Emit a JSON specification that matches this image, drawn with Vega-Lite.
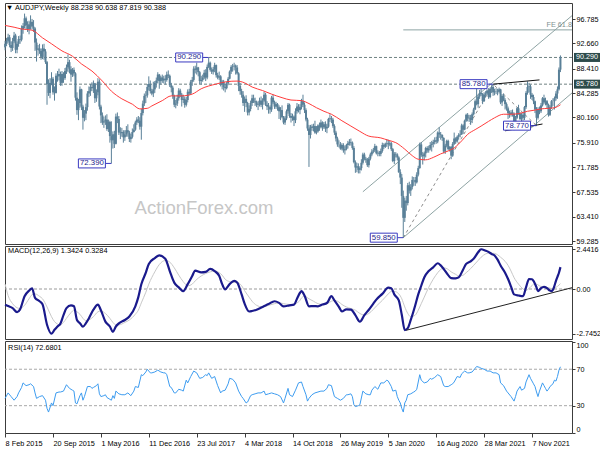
{
"$schema":"https://vega.github.io/schema/vega-lite/v6.json",
"background":"#ffffff",
"padding":{"left":0,"top":2,"right":0,"bottom":2},
"spacing":2,
"bounds":"flush",
"config":{"view":{"stroke":"#3c3c3c","strokeWidth":1},"font":"Liberation Sans"},
"datasets":{
"candles":[
{"d":"2015-02-08","o":92.0,"h":93.1,"l":91.5,"c":92.6},{"d":"2015-02-15","o":92.6,"h":93.6,"l":92.2,"c":93.1},{"d":"2015-02-22","o":93.1,"h":94.3,"l":92.8,"c":93.7},{"d":"2015-03-01","o":93.7,"h":94.1,"l":92.0,"c":92.4},{"d":"2015-03-08","o":92.4,"h":93.0,"l":91.2,"c":91.9},{"d":"2015-03-15","o":91.9,"h":93.6,"l":91.4,"c":93.0},{"d":"2015-03-22","o":93.0,"h":94.6,"l":92.7,"c":94.0},{"d":"2015-03-29","o":94.0,"h":94.3,"l":91.0,"c":91.6},{"d":"2015-04-05","o":91.6,"h":93.0,"l":91.0,"c":92.6},{"d":"2015-04-12","o":92.6,"h":93.9,"l":92.1,"c":93.4},{"d":"2015-04-19","o":93.4,"h":94.0,"l":92.6,"c":93.3},{"d":"2015-04-26","o":93.3,"h":95.7,"l":93.0,"c":95.1},{"d":"2015-05-03","o":95.1,"h":96.1,"l":94.3,"c":95.6},{"d":"2015-05-10","o":95.6,"h":97.7,"l":95.2,"c":96.9},{"d":"2015-05-17","o":96.9,"h":97.2,"l":95.0,"c":95.7},{"d":"2015-05-24","o":95.7,"h":96.4,"l":94.6,"c":95.1},{"d":"2015-05-31","o":95.1,"h":96.5,"l":94.2,"c":95.9},{"d":"2015-06-07","o":95.9,"h":97.4,"l":95.0,"c":96.3},{"d":"2015-06-14","o":96.3,"h":96.8,"l":95.0,"c":95.5},{"d":"2015-06-21","o":95.5,"h":96.6,"l":94.6,"c":95.2},{"d":"2015-06-28","o":95.2,"h":95.4,"l":91.4,"c":92.8},{"d":"2015-07-05","o":92.8,"h":93.5,"l":89.6,"c":91.6},{"d":"2015-07-12","o":91.6,"h":92.4,"l":90.6,"c":91.8},{"d":"2015-07-19","o":91.8,"h":92.6,"l":90.9,"c":91.4},{"d":"2015-07-26","o":91.4,"h":91.8,"l":89.9,"c":90.4},{"d":"2015-08-02","o":90.4,"h":92.5,"l":90.0,"c":91.8},{"d":"2015-08-09","o":91.8,"h":92.6,"l":89.9,"c":91.3},{"d":"2015-08-16","o":91.3,"h":91.7,"l":89.2,"c":89.5},{"d":"2015-08-23","o":89.5,"h":89.7,"l":82.3,"c":85.8},{"d":"2015-08-30","o":85.8,"h":86.6,"l":83.8,"c":84.3},{"d":"2015-09-06","o":84.3,"h":86.8,"l":83.4,"c":86.0},{"d":"2015-09-13","o":86.0,"h":87.8,"l":85.6,"c":86.7},{"d":"2015-09-20","o":86.7,"h":87.0,"l":84.0,"c":84.4},{"d":"2015-09-27","o":84.4,"h":85.4,"l":83.0,"c":84.3},{"d":"2015-10-04","o":84.3,"h":87.6,"l":84.2,"c":87.2},{"d":"2015-10-11","o":87.2,"h":88.0,"l":86.2,"c":87.1},{"d":"2015-10-18","o":87.1,"h":88.4,"l":86.4,"c":87.5},{"d":"2015-10-25","o":87.5,"h":87.9,"l":85.5,"c":86.0},{"d":"2015-11-01","o":86.0,"h":88.0,"l":85.5,"c":87.5},{"d":"2015-11-08","o":87.5,"h":87.8,"l":86.0,"c":86.8},{"d":"2015-11-15","o":86.8,"h":88.5,"l":86.5,"c":88.0},{"d":"2015-11-22","o":88.0,"h":89.1,"l":87.5,"c":88.6},{"d":"2015-11-29","o":88.6,"h":90.8,"l":87.8,"c":89.5},{"d":"2015-12-06","o":89.5,"h":89.9,"l":87.6,"c":88.3},{"d":"2015-12-13","o":88.3,"h":88.8,"l":86.2,"c":87.4},{"d":"2015-12-20","o":87.4,"h":88.5,"l":87.0,"c":88.2},{"d":"2015-12-27","o":88.2,"h":88.6,"l":87.1,"c":87.6},
{"d":"2016-01-03","o":87.6,"h":87.8,"l":83.0,"c":83.5},{"d":"2016-01-10","o":83.5,"h":84.4,"l":80.6,"c":81.4},{"d":"2016-01-17","o":81.4,"h":83.3,"l":79.7,"c":82.6},{"d":"2016-01-24","o":82.6,"h":85.4,"l":81.8,"c":84.9},{"d":"2016-01-31","o":84.9,"h":85.0,"l":81.4,"c":82.0},{"d":"2016-02-07","o":82.0,"h":82.3,"l":78.1,"c":80.1},{"d":"2016-02-14","o":80.1,"h":81.4,"l":79.5,"c":80.8},{"d":"2016-02-21","o":80.8,"h":82.5,"l":79.7,"c":81.9},{"d":"2016-02-28","o":81.9,"h":84.6,"l":81.3,"c":84.2},{"d":"2016-03-06","o":84.2,"h":85.4,"l":83.6,"c":84.6},{"d":"2016-03-13","o":84.6,"h":85.8,"l":83.8,"c":85.3},{"d":"2016-03-20","o":85.3,"h":86.1,"l":84.6,"c":85.1},{"d":"2016-03-27","o":85.1,"h":86.4,"l":84.3,"c":85.9},{"d":"2016-04-03","o":85.9,"h":86.0,"l":82.6,"c":83.4},{"d":"2016-04-10","o":83.4,"h":84.9,"l":82.8,"c":84.4},{"d":"2016-04-17","o":84.4,"h":86.8,"l":83.9,"c":86.2},{"d":"2016-04-24","o":86.2,"h":86.6,"l":81.5,"c":82.0},{"d":"2016-05-01","o":82.0,"h":82.3,"l":79.2,"c":80.5},{"d":"2016-05-08","o":80.5,"h":81.0,"l":78.9,"c":79.3},{"d":"2016-05-15","o":79.3,"h":80.3,"l":78.4,"c":79.5},{"d":"2016-05-22","o":79.5,"h":80.5,"l":78.9,"c":79.8},{"d":"2016-05-29","o":79.8,"h":80.7,"l":77.9,"c":78.2},{"d":"2016-06-05","o":78.2,"h":79.8,"l":77.7,"c":79.4},{"d":"2016-06-12","o":79.4,"h":79.6,"l":75.9,"c":77.0},{"d":"2016-06-19","o":77.0,"h":79.5,"l":72.39,"c":76.3},{"d":"2016-06-26","o":76.3,"h":77.8,"l":74.9,"c":77.3},{"d":"2016-07-03","o":77.3,"h":77.9,"l":75.0,"c":75.7},{"d":"2016-07-10","o":75.7,"h":80.8,"l":75.6,"c":80.3},{"d":"2016-07-17","o":80.3,"h":81.0,"l":79.2,"c":79.9},{"d":"2016-07-24","o":79.9,"h":80.4,"l":77.2,"c":77.6},{"d":"2016-07-31","o":77.6,"h":78.5,"l":76.5,"c":77.5},{"d":"2016-08-07","o":77.5,"h":78.4,"l":76.9,"c":77.7},{"d":"2016-08-14","o":77.7,"h":78.0,"l":75.9,"c":76.8},{"d":"2016-08-21","o":76.8,"h":78.0,"l":76.2,"c":77.3},{"d":"2016-08-28","o":77.3,"h":78.7,"l":76.9,"c":78.0},{"d":"2016-09-04","o":78.0,"h":79.0,"l":76.9,"c":77.6},{"d":"2016-09-11","o":77.6,"h":77.9,"l":76.0,"c":76.5},{"d":"2016-09-18","o":76.5,"h":77.4,"l":75.9,"c":76.9},{"d":"2016-09-25","o":76.9,"h":78.3,"l":76.6,"c":77.7},{"d":"2016-10-02","o":77.7,"h":79.0,"l":77.6,"c":78.1},{"d":"2016-10-09","o":78.1,"h":79.6,"l":77.9,"c":79.3},{"d":"2016-10-16","o":79.3,"h":80.2,"l":78.9,"c":79.8},{"d":"2016-10-23","o":79.8,"h":80.4,"l":79.2,"c":79.6},{"d":"2016-10-30","o":79.6,"h":80.2,"l":78.1,"c":78.6},{"d":"2016-11-06","o":78.6,"h":81.6,"l":76.4,"c":80.9},{"d":"2016-11-13","o":80.9,"h":83.0,"l":80.5,"c":82.5},{"d":"2016-11-20","o":82.5,"h":84.2,"l":82.1,"c":83.8},{"d":"2016-11-27","o":83.8,"h":84.6,"l":82.6,"c":83.9},{"d":"2016-12-04","o":83.9,"h":85.8,"l":83.5,"c":85.3},{"d":"2016-12-11","o":85.3,"h":87.1,"l":84.7,"c":85.8},{"d":"2016-12-18","o":85.8,"h":86.4,"l":84.2,"c":84.6},{"d":"2016-12-25","o":84.6,"h":85.0,"l":83.9,"c":84.2},
{"d":"2017-01-01","o":84.2,"h":86.2,"l":83.6,"c":84.9},{"d":"2017-01-08","o":84.9,"h":86.3,"l":84.3,"c":86.0},{"d":"2017-01-15","o":86.0,"h":86.9,"l":85.2,"c":86.4},{"d":"2017-01-22","o":86.4,"h":87.8,"l":85.9,"c":87.4},{"d":"2017-01-29","o":87.4,"h":87.5,"l":85.0,"c":86.3},{"d":"2017-02-05","o":86.3,"h":87.2,"l":85.7,"c":86.9},{"d":"2017-02-12","o":86.9,"h":87.4,"l":86.0,"c":86.4},{"d":"2017-02-19","o":86.4,"h":87.2,"l":85.9,"c":86.7},{"d":"2017-02-26","o":86.7,"h":87.3,"l":85.7,"c":86.5},{"d":"2017-03-05","o":86.5,"h":87.9,"l":86.2,"c":87.4},{"d":"2017-03-12","o":87.4,"h":88.1,"l":86.8,"c":87.2},{"d":"2017-03-19","o":87.2,"h":87.4,"l":85.3,"c":85.6},{"d":"2017-03-26","o":85.6,"h":86.0,"l":84.4,"c":85.2},{"d":"2017-04-02","o":85.2,"h":85.5,"l":83.3,"c":83.8},{"d":"2017-04-09","o":83.8,"h":84.0,"l":81.9,"c":82.3},{"d":"2017-04-16","o":82.3,"h":83.1,"l":81.7,"c":82.5},{"d":"2017-04-23","o":82.5,"h":84.0,"l":82.1,"c":83.4},{"d":"2017-04-30","o":83.4,"h":85.1,"l":83.0,"c":84.7},{"d":"2017-05-07","o":84.7,"h":85.0,"l":83.6,"c":84.0},{"d":"2017-05-14","o":84.0,"h":84.3,"l":82.0,"c":83.1},{"d":"2017-05-21","o":83.1,"h":84.0,"l":82.6,"c":83.3},{"d":"2017-05-28","o":83.3,"h":83.7,"l":81.8,"c":82.3},{"d":"2017-06-04","o":82.3,"h":83.6,"l":82.0,"c":83.1},{"d":"2017-06-11","o":83.1,"h":84.9,"l":82.7,"c":84.5},{"d":"2017-06-18","o":84.5,"h":85.0,"l":83.9,"c":84.2},{"d":"2017-06-25","o":84.2,"h":86.5,"l":84.0,"c":86.2},{"d":"2017-07-02","o":86.2,"h":87.0,"l":85.5,"c":86.5},{"d":"2017-07-09","o":86.5,"h":88.8,"l":86.2,"c":88.4},{"d":"2017-07-16","o":88.4,"h":88.9,"l":87.6,"c":88.2},{"d":"2017-07-23","o":88.2,"h":89.4,"l":87.4,"c":88.6},{"d":"2017-07-30","o":88.6,"h":88.7,"l":87.1,"c":87.8},{"d":"2017-08-06","o":87.8,"h":88.0,"l":85.8,"c":86.3},{"d":"2017-08-13","o":86.3,"h":87.2,"l":85.7,"c":86.5},{"d":"2017-08-20","o":86.5,"h":87.4,"l":86.2,"c":86.9},{"d":"2017-08-27","o":86.9,"h":88.2,"l":86.6,"c":87.7},{"d":"2017-09-03","o":87.7,"h":88.3,"l":86.3,"c":86.9},{"d":"2017-09-10","o":86.9,"h":89.1,"l":86.6,"c":88.7},{"d":"2017-09-17","o":88.7,"h":90.29,"l":88.5,"c":89.4},{"d":"2017-09-24","o":89.4,"h":89.6,"l":87.9,"c":88.2},{"d":"2017-10-01","o":88.2,"h":88.6,"l":87.5,"c":87.9},{"d":"2017-10-08","o":87.9,"h":88.7,"l":87.4,"c":88.3},{"d":"2017-10-15","o":88.3,"h":89.4,"l":87.8,"c":89.0},{"d":"2017-10-22","o":89.0,"h":89.1,"l":86.9,"c":87.3},{"d":"2017-10-29","o":87.3,"h":87.7,"l":86.6,"c":86.9},{"d":"2017-11-05","o":86.9,"h":87.9,"l":86.5,"c":87.1},{"d":"2017-11-12","o":87.1,"h":87.3,"l":85.4,"c":85.7},{"d":"2017-11-19","o":85.7,"h":86.5,"l":84.9,"c":86.2},{"d":"2017-11-26","o":86.2,"h":86.5,"l":84.7,"c":85.3},{"d":"2017-12-03","o":85.3,"h":85.8,"l":84.4,"c":85.1},{"d":"2017-12-10","o":85.1,"h":86.2,"l":84.9,"c":85.9},{"d":"2017-12-17","o":85.9,"h":87.0,"l":85.6,"c":86.7},{"d":"2017-12-24","o":86.7,"h":88.1,"l":86.6,"c":87.9},{"d":"2017-12-31","o":87.9,"h":89.0,"l":87.5,"c":88.7},
{"d":"2018-01-07","o":88.7,"h":89.2,"l":87.9,"c":88.8},{"d":"2018-01-14","o":88.8,"h":89.4,"l":88.1,"c":88.9},{"d":"2018-01-21","o":88.9,"h":89.1,"l":87.4,"c":88.6},{"d":"2018-01-28","o":88.6,"h":89.0,"l":87.4,"c":87.6},{"d":"2018-02-04","o":87.6,"h":87.8,"l":84.6,"c":85.5},{"d":"2018-02-11","o":85.5,"h":86.0,"l":84.0,"c":84.6},{"d":"2018-02-18","o":84.6,"h":85.0,"l":83.5,"c":84.0},{"d":"2018-02-25","o":84.0,"h":84.6,"l":82.1,"c":82.6},{"d":"2018-03-04","o":82.6,"h":83.7,"l":81.1,"c":83.3},{"d":"2018-03-11","o":83.3,"h":83.9,"l":81.9,"c":82.6},{"d":"2018-03-18","o":82.6,"h":82.8,"l":80.5,"c":81.0},{"d":"2018-03-25","o":81.0,"h":82.2,"l":80.5,"c":81.6},{"d":"2018-04-01","o":81.6,"h":83.0,"l":81.2,"c":82.6},{"d":"2018-04-08","o":82.6,"h":84.0,"l":82.1,"c":83.4},{"d":"2018-04-15","o":83.4,"h":84.0,"l":82.6,"c":82.9},{"d":"2018-04-22","o":82.9,"h":83.5,"l":82.1,"c":82.7},{"d":"2018-04-29","o":82.7,"h":83.0,"l":81.9,"c":82.3},{"d":"2018-05-06","o":82.3,"h":82.9,"l":81.4,"c":82.4},{"d":"2018-05-13","o":82.4,"h":83.5,"l":82.0,"c":83.0},{"d":"2018-05-20","o":83.0,"h":83.7,"l":81.9,"c":82.3},{"d":"2018-05-27","o":82.3,"h":83.4,"l":81.5,"c":83.0},{"d":"2018-06-03","o":83.0,"h":84.5,"l":82.8,"c":84.0},{"d":"2018-06-10","o":84.0,"h":84.3,"l":82.1,"c":82.3},{"d":"2018-06-17","o":82.3,"h":82.9,"l":81.4,"c":82.0},{"d":"2018-06-24","o":82.0,"h":82.6,"l":80.8,"c":81.9},{"d":"2018-07-01","o":81.9,"h":82.2,"l":80.8,"c":81.5},{"d":"2018-07-08","o":81.5,"h":83.8,"l":81.1,"c":83.5},{"d":"2018-07-15","o":83.5,"h":84.0,"l":82.4,"c":82.7},{"d":"2018-07-22","o":82.7,"h":83.0,"l":81.6,"c":82.0},{"d":"2018-07-29","o":82.0,"h":82.8,"l":81.6,"c":82.4},{"d":"2018-08-05","o":82.4,"h":82.6,"l":81.3,"c":81.9},{"d":"2018-08-12","o":81.9,"h":82.2,"l":79.9,"c":81.2},{"d":"2018-08-19","o":81.2,"h":81.9,"l":79.7,"c":81.4},{"d":"2018-08-26","o":81.4,"h":82.2,"l":80.0,"c":80.2},{"d":"2018-09-02","o":80.2,"h":80.4,"l":79.0,"c":79.3},{"d":"2018-09-09","o":79.3,"h":80.4,"l":78.9,"c":80.0},{"d":"2018-09-16","o":80.0,"h":81.5,"l":79.7,"c":81.2},{"d":"2018-09-23","o":81.2,"h":82.6,"l":80.8,"c":82.3},{"d":"2018-09-30","o":82.3,"h":82.5,"l":80.1,"c":80.4},{"d":"2018-10-07","o":80.4,"h":80.9,"l":79.3,"c":80.1},{"d":"2018-10-14","o":80.1,"h":80.8,"l":79.6,"c":80.3},{"d":"2018-10-21","o":80.3,"h":80.5,"l":78.7,"c":79.7},{"d":"2018-10-28","o":79.7,"h":81.7,"l":79.2,"c":81.2},{"d":"2018-11-04","o":81.2,"h":82.6,"l":80.8,"c":82.0},{"d":"2018-11-11","o":82.0,"h":82.4,"l":81.0,"c":81.4},{"d":"2018-11-18","o":81.4,"h":82.4,"l":80.7,"c":81.9},{"d":"2018-11-25","o":81.9,"h":83.3,"l":81.5,"c":82.9},{"d":"2018-12-02","o":82.9,"h":84.0,"l":81.9,"c":82.3},{"d":"2018-12-09","o":82.3,"h":82.7,"l":80.9,"c":81.4},{"d":"2018-12-16","o":81.4,"h":81.7,"l":79.5,"c":79.8},{"d":"2018-12-23","o":79.8,"h":80.1,"l":77.9,"c":78.3},{"d":"2018-12-30","o":78.3,"h":78.9,"l":71.8,"c":77.2},
{"d":"2019-01-06","o":77.2,"h":78.9,"l":76.6,"c":78.6},{"d":"2019-01-13","o":78.6,"h":79.0,"l":77.9,"c":78.4},{"d":"2019-01-20","o":78.4,"h":79.1,"l":77.8,"c":78.7},{"d":"2019-01-27","o":78.7,"h":79.6,"l":77.4,"c":77.6},{"d":"2019-02-03","o":77.6,"h":78.7,"l":77.3,"c":77.8},{"d":"2019-02-10","o":77.8,"h":79.0,"l":77.6,"c":78.8},{"d":"2019-02-17","o":78.8,"h":79.3,"l":77.9,"c":78.5},{"d":"2019-02-24","o":78.5,"h":79.8,"l":78.3,"c":79.3},{"d":"2019-03-03","o":79.3,"h":79.5,"l":77.9,"c":78.5},{"d":"2019-03-10","o":78.5,"h":79.4,"l":78.2,"c":79.0},{"d":"2019-03-17","o":79.0,"h":79.5,"l":77.7,"c":78.3},{"d":"2019-03-24","o":78.3,"h":79.1,"l":77.5,"c":78.6},{"d":"2019-03-31","o":78.6,"h":80.1,"l":78.4,"c":79.9},{"d":"2019-04-07","o":79.9,"h":80.7,"l":79.4,"c":80.0},{"d":"2019-04-14","o":80.0,"h":80.4,"l":79.2,"c":79.8},{"d":"2019-04-21","o":79.8,"h":80.1,"l":78.4,"c":78.7},{"d":"2019-04-28","o":78.7,"h":79.0,"l":77.2,"c":77.6},{"d":"2019-05-05","o":77.6,"h":77.9,"l":76.1,"c":76.6},{"d":"2019-05-12","o":76.6,"h":76.9,"l":75.2,"c":75.6},{"d":"2019-05-19","o":75.6,"h":76.3,"l":75.1,"c":75.6},{"d":"2019-05-26","o":75.6,"h":76.0,"l":74.7,"c":74.9},{"d":"2019-06-02","o":74.9,"h":75.8,"l":74.6,"c":75.5},{"d":"2019-06-09","o":75.5,"h":75.8,"l":74.2,"c":74.6},{"d":"2019-06-16","o":74.6,"h":75.3,"l":73.9,"c":74.8},{"d":"2019-06-23","o":74.8,"h":75.7,"l":74.6,"c":75.5},{"d":"2019-06-30","o":75.5,"h":76.2,"l":74.9,"c":75.8},{"d":"2019-07-07","o":75.8,"h":76.5,"l":75.4,"c":76.0},{"d":"2019-07-14","o":76.0,"h":76.6,"l":75.4,"c":75.9},{"d":"2019-07-21","o":75.9,"h":76.1,"l":74.7,"c":75.0},{"d":"2019-07-28","o":75.0,"h":75.3,"l":72.4,"c":72.6},{"d":"2019-08-04","o":72.6,"h":72.9,"l":70.8,"c":71.7},{"d":"2019-08-11","o":71.7,"h":72.5,"l":70.9,"c":71.9},{"d":"2019-08-18","o":71.9,"h":72.4,"l":70.7,"c":71.3},{"d":"2019-08-25","o":71.3,"h":71.9,"l":70.7,"c":71.6},{"d":"2019-09-01","o":71.6,"h":73.1,"l":71.2,"c":72.5},{"d":"2019-09-08","o":72.5,"h":74.2,"l":72.2,"c":73.9},{"d":"2019-09-15","o":73.9,"h":74.2,"l":72.9,"c":73.2},{"d":"2019-09-22","o":73.2,"h":73.5,"l":72.5,"c":73.0},{"d":"2019-09-29","o":73.0,"h":73.3,"l":71.8,"c":72.1},{"d":"2019-10-06","o":72.1,"h":73.5,"l":71.7,"c":73.2},{"d":"2019-10-13","o":73.2,"h":74.2,"l":72.9,"c":73.9},{"d":"2019-10-20","o":73.9,"h":74.8,"l":73.6,"c":74.4},{"d":"2019-10-27","o":74.4,"h":75.0,"l":74.1,"c":74.6},{"d":"2019-11-03","o":74.6,"h":75.7,"l":74.3,"c":75.3},{"d":"2019-11-10","o":75.3,"h":75.4,"l":73.9,"c":74.1},{"d":"2019-11-17","o":74.1,"h":74.6,"l":73.6,"c":74.2},{"d":"2019-11-24","o":74.2,"h":74.5,"l":73.6,"c":74.0},{"d":"2019-12-01","o":74.0,"h":74.9,"l":73.6,"c":74.5},{"d":"2019-12-08","o":74.5,"h":75.9,"l":74.2,"c":75.5},{"d":"2019-12-15","o":75.5,"h":75.8,"l":74.8,"c":75.2},{"d":"2019-12-22","o":75.2,"h":75.9,"l":75.0,"c":75.7},{"d":"2019-12-29","o":75.7,"h":76.5,"l":75.2,"c":75.8},
{"d":"2020-01-05","o":75.8,"h":76.4,"l":74.8,"c":75.6},{"d":"2020-01-12","o":75.6,"h":76.2,"l":75.3,"c":75.8},{"d":"2020-01-19","o":75.8,"h":76.0,"l":74.5,"c":74.8},{"d":"2020-01-26","o":74.8,"h":75.0,"l":72.6,"c":72.8},{"d":"2020-02-02","o":72.8,"h":74.3,"l":72.3,"c":74.0},{"d":"2020-02-09","o":74.0,"h":74.3,"l":73.4,"c":73.9},{"d":"2020-02-16","o":73.9,"h":74.1,"l":72.9,"c":73.4},{"d":"2020-02-23","o":73.4,"h":73.6,"l":70.8,"c":70.9},{"d":"2020-03-01","o":70.9,"h":71.4,"l":68.9,"c":70.0},{"d":"2020-03-08","o":70.0,"h":70.6,"l":64.9,"c":66.9},{"d":"2020-03-15","o":66.9,"h":67.8,"l":59.85,"c":63.2},{"d":"2020-03-22","o":63.2,"h":66.6,"l":62.5,"c":66.1},{"d":"2020-03-29","o":66.1,"h":66.9,"l":64.4,"c":65.7},{"d":"2020-04-05","o":65.7,"h":69.1,"l":65.3,"c":68.7},{"d":"2020-04-12","o":68.7,"h":69.3,"l":67.3,"c":67.8},{"d":"2020-04-19","o":67.8,"h":68.9,"l":66.9,"c":68.4},{"d":"2020-04-26","o":68.4,"h":70.2,"l":68.0,"c":69.6},{"d":"2020-05-03","o":69.6,"h":70.1,"l":68.6,"c":69.6},{"d":"2020-05-10","o":69.6,"h":70.1,"l":68.6,"c":69.2},{"d":"2020-05-17","o":69.2,"h":70.9,"l":69.0,"c":70.5},{"d":"2020-05-24","o":70.5,"h":72.0,"l":70.2,"c":71.6},{"d":"2020-05-31","o":71.6,"h":75.9,"l":71.5,"c":75.6},{"d":"2020-06-07","o":75.6,"h":76.0,"l":73.5,"c":73.8},{"d":"2020-06-14","o":73.8,"h":74.3,"l":72.2,"c":73.6},{"d":"2020-06-21","o":73.6,"h":74.4,"l":72.9,"c":74.1},{"d":"2020-06-28","o":74.1,"h":75.2,"l":73.4,"c":75.0},{"d":"2020-07-05","o":75.0,"h":75.3,"l":74.2,"c":74.6},{"d":"2020-07-12","o":74.6,"h":75.4,"l":74.2,"c":74.9},{"d":"2020-07-19","o":74.9,"h":76.0,"l":74.6,"c":75.5},{"d":"2020-07-26","o":75.5,"h":76.2,"l":74.4,"c":75.7},{"d":"2020-08-02","o":75.7,"h":76.4,"l":75.1,"c":76.0},{"d":"2020-08-09","o":76.0,"h":76.8,"l":75.6,"c":76.3},{"d":"2020-08-16","o":76.3,"h":76.9,"l":75.7,"c":76.1},{"d":"2020-08-23","o":76.1,"h":77.8,"l":75.8,"c":77.6},{"d":"2020-08-30","o":77.6,"h":78.5,"l":76.7,"c":77.3},{"d":"2020-09-06","o":77.3,"h":77.7,"l":76.4,"c":77.2},{"d":"2020-09-13","o":77.2,"h":77.3,"l":76.2,"c":76.7},{"d":"2020-09-20","o":76.7,"h":76.8,"l":74.1,"c":74.4},{"d":"2020-09-27","o":74.4,"h":75.7,"l":74.0,"c":75.4},{"d":"2020-10-04","o":75.4,"h":76.4,"l":75.1,"c":76.2},{"d":"2020-10-11","o":76.2,"h":76.4,"l":74.6,"c":74.8},{"d":"2020-10-18","o":74.8,"h":75.3,"l":74.4,"c":75.2},{"d":"2020-10-25","o":75.2,"h":75.3,"l":73.1,"c":73.7},{"d":"2020-11-01","o":73.7,"h":76.0,"l":73.5,"c":75.7},{"d":"2020-11-08","o":75.7,"h":77.6,"l":75.5,"c":76.6},{"d":"2020-11-15","o":76.6,"h":76.8,"l":75.7,"c":76.1},{"d":"2020-11-22","o":76.1,"h":77.1,"l":75.9,"c":76.9},{"d":"2020-11-29","o":76.9,"h":77.5,"l":76.4,"c":77.2},{"d":"2020-12-06","o":77.2,"h":78.0,"l":76.8,"c":77.3},{"d":"2020-12-13","o":77.3,"h":79.1,"l":77.2,"c":78.8},{"d":"2020-12-20","o":78.8,"h":79.0,"l":77.4,"c":78.1},{"d":"2020-12-27","o":78.1,"h":79.8,"l":78.0,"c":79.6},
{"d":"2021-01-03","o":79.6,"h":80.8,"l":79.4,"c":80.6},{"d":"2021-01-10","o":80.6,"h":80.9,"l":79.5,"c":80.0},{"d":"2021-01-17","o":80.0,"h":80.6,"l":79.4,"c":80.1},{"d":"2021-01-24","o":80.1,"h":80.6,"l":78.9,"c":79.7},{"d":"2021-01-31","o":79.7,"h":81.0,"l":79.2,"c":80.7},{"d":"2021-02-07","o":80.7,"h":81.8,"l":80.5,"c":81.5},{"d":"2021-02-14","o":81.5,"h":83.2,"l":81.4,"c":82.9},{"d":"2021-02-21","o":82.9,"h":85.4,"l":82.2,"c":82.4},{"d":"2021-02-28","o":82.4,"h":84.0,"l":81.8,"c":83.7},{"d":"2021-03-07","o":83.7,"h":84.8,"l":83.3,"c":84.3},{"d":"2021-03-14","o":84.3,"h":85.1,"l":83.8,"c":84.1},{"d":"2021-03-21","o":84.1,"h":84.3,"l":82.4,"c":82.9},{"d":"2021-03-28","o":82.9,"h":84.4,"l":82.8,"c":84.0},{"d":"2021-04-04","o":84.0,"h":84.6,"l":83.6,"c":84.2},{"d":"2021-04-11","o":84.2,"h":84.9,"l":83.9,"c":84.7},{"d":"2021-04-18","o":84.7,"h":85.1,"l":83.3,"c":83.6},{"d":"2021-04-25","o":83.6,"h":85.2,"l":83.4,"c":85.0},{"d":"2021-05-02","o":85.0,"h":85.6,"l":84.3,"c":85.3},{"d":"2021-05-09","o":85.3,"h":85.78,"l":83.8,"c":84.4},{"d":"2021-05-16","o":84.4,"h":85.0,"l":83.9,"c":84.6},{"d":"2021-05-23","o":84.6,"h":85.1,"l":84.1,"c":84.6},{"d":"2021-05-30","o":84.6,"h":85.0,"l":83.9,"c":84.5},{"d":"2021-06-06","o":84.5,"h":85.2,"l":84.2,"c":84.9},{"d":"2021-06-13","o":84.9,"h":85.0,"l":82.4,"c":82.7},{"d":"2021-06-20","o":82.7,"h":84.1,"l":82.1,"c":83.8},{"d":"2021-06-27","o":83.8,"h":84.2,"l":82.9,"c":83.1},{"d":"2021-07-04","o":83.1,"h":83.4,"l":81.5,"c":82.4},{"d":"2021-07-11","o":82.4,"h":82.7,"l":81.3,"c":81.7},{"d":"2021-07-18","o":81.7,"h":82.0,"l":79.9,"c":80.9},{"d":"2021-07-25","o":80.9,"h":81.3,"l":80.1,"c":80.7},{"d":"2021-08-01","o":80.7,"h":81.4,"l":80.3,"c":81.0},{"d":"2021-08-08","o":81.0,"h":81.5,"l":80.3,"c":80.8},{"d":"2021-08-15","o":80.8,"h":81.0,"l":78.0,"c":78.9},{"d":"2021-08-22","o":78.9,"h":80.4,"l":78.7,"c":80.1},{"d":"2021-08-29","o":80.1,"h":81.9,"l":79.9,"c":81.7},{"d":"2021-09-05","o":81.7,"h":82.3,"l":80.6,"c":80.8},{"d":"2021-09-12","o":80.8,"h":81.0,"l":79.7,"c":79.9},{"d":"2021-09-19","o":79.9,"h":80.9,"l":79.2,"c":80.6},{"d":"2021-09-26","o":80.6,"h":81.0,"l":79.6,"c":80.1},{"d":"2021-10-03","o":80.1,"h":82.1,"l":79.7,"c":81.9},{"d":"2021-10-10","o":81.9,"h":84.6,"l":81.6,"c":84.3},{"d":"2021-10-17","o":84.3,"h":86.25,"l":84.0,"c":85.3},{"d":"2021-10-24","o":85.3,"h":86.0,"l":84.4,"c":85.4},{"d":"2021-10-31","o":85.4,"h":85.7,"l":83.3,"c":84.0},{"d":"2021-11-07","o":84.0,"h":84.3,"l":83.1,"c":83.6},{"d":"2021-11-14","o":83.6,"h":84.0,"l":82.4,"c":82.9},{"d":"2021-11-21","o":82.9,"h":83.0,"l":80.9,"c":81.5},{"d":"2021-11-28","o":81.5,"h":81.9,"l":78.77,"c":80.1},{"d":"2021-12-05","o":80.1,"h":81.9,"l":79.8,"c":81.6},{"d":"2021-12-12","o":81.6,"h":82.0,"l":80.7,"c":81.2},{"d":"2021-12-19","o":81.2,"h":82.6,"l":80.9,"c":82.2},{"d":"2021-12-26","o":82.2,"h":83.6,"l":82.0,"c":83.4},
{"d":"2022-01-02","o":83.4,"h":84.0,"l":82.4,"c":82.7},{"d":"2022-01-09","o":82.7,"h":83.5,"l":82.2,"c":82.9},{"d":"2022-01-16","o":82.9,"h":83.1,"l":81.7,"c":82.3},{"d":"2022-01-23","o":82.3,"h":82.5,"l":80.3,"c":80.6},{"d":"2022-01-30","o":80.6,"h":82.2,"l":80.4,"c":81.9},{"d":"2022-02-06","o":81.9,"h":83.1,"l":81.6,"c":82.9},{"d":"2022-02-13","o":82.9,"h":83.4,"l":82.1,"c":82.9},{"d":"2022-02-20","o":82.9,"h":83.7,"l":81.5,"c":83.4},{"d":"2022-02-27","o":83.4,"h":84.6,"l":83.0,"c":84.2},{"d":"2022-03-06","o":84.2,"h":85.4,"l":83.3,"c":84.9},{"d":"2022-03-13","o":84.9,"h":88.6,"l":84.7,"c":88.24},{"d":"2022-03-20","o":88.238,"h":90.638,"l":87.819,"c":90.388}
],
"ma":[
{"d":"2015-02-08","v":95.7},{"d":"2015-03-22","v":95.4},{"d":"2015-04-26","v":95.1},{"d":"2015-06-14","v":94.9},{"d":"2015-08-02","v":93.6},{"d":"2015-09-13","v":92.6},{"d":"2015-11-01","v":91.4},{"d":"2015-12-20","v":90.5},{"d":"2016-01-31","v":89.2},{"d":"2016-03-20","v":88.0},{"d":"2016-05-08","v":86.3},{"d":"2016-06-19","v":84.6},{"d":"2016-08-07","v":83.3},{"d":"2016-09-25","v":82.4},{"d":"2016-10-30","v":81.6},{"d":"2016-12-04","v":81.7},{"d":"2016-12-25","v":82.1},{"d":"2017-02-12","v":83.0},{"d":"2017-03-26","v":83.8},{"d":"2017-05-14","v":83.8},{"d":"2017-07-02","v":84.1},{"d":"2017-08-13","v":85.0},{"d":"2017-10-22","v":85.8},{"d":"2017-12-10","v":86.2},{"d":"2018-01-28","v":86.3},{"d":"2018-03-04","v":86.0},{"d":"2018-04-08","v":85.3},{"d":"2018-05-27","v":84.7},{"d":"2018-07-08","v":84.1},{"d":"2018-08-26","v":83.5},{"d":"2018-10-07","v":83.1},{"d":"2018-11-25","v":83.0},{"d":"2018-12-30","v":82.5},{"d":"2019-02-03","v":81.8},{"d":"2019-03-10","v":81.2},{"d":"2019-04-14","v":80.7},{"d":"2019-06-02","v":79.6},{"d":"2019-07-14","v":78.7},{"d":"2019-08-25","v":77.8},{"d":"2019-10-06","v":77.0},{"d":"2019-12-01","v":76.7},{"d":"2020-01-05","v":76.3},{"d":"2020-02-09","v":75.9},{"d":"2020-03-22","v":74.8},{"d":"2020-04-26","v":73.7},{"d":"2020-05-24","v":73.1},{"d":"2020-06-28","v":73.0},{"d":"2020-08-02","v":73.4},{"d":"2020-09-06","v":74.0},{"d":"2020-10-11","v":74.5},{"d":"2020-11-08","v":75.0},{"d":"2020-12-13","v":76.2},{"d":"2021-01-10","v":77.3},{"d":"2021-02-14","v":78.1},{"d":"2021-03-14","v":78.7},{"d":"2021-04-18","v":79.5},{"d":"2021-05-16","v":80.1},{"d":"2021-06-27","v":80.7},{"d":"2021-08-01","v":80.7},{"d":"2021-09-05","v":80.8},{"d":"2021-10-17","v":81.2},{"d":"2021-11-21","v":81.4},{"d":"2021-12-19","v":81.6},{"d":"2022-01-23","v":81.7},{"d":"2022-02-20","v":81.8},{"d":"2022-03-20","v":82.3}
],
"macd":[
{"d":"2015-02-08","m":-0.96,"s":0.3},{"d":"2015-02-22","m":-1.05,"s":-0.4},{"d":"2015-03-15","m":-1.17,"s":-0.9},{"d":"2015-04-05","m":-1.42,"s":-1.15},{"d":"2015-04-19","m":-1.25,"s":-1.2},{"d":"2015-05-10","m":-0.44,"s":-1.0},{"d":"2015-05-31","m":-0.1,"s":-0.6},{"d":"2015-06-14","m":0.04,"s":-0.35},{"d":"2015-06-28","m":-0.54,"s":-0.3},{"d":"2015-07-19","m":-0.75,"s":-0.45},{"d":"2015-08-02","m":-0.94,"s":-0.6},{"d":"2015-08-23","m":-2.19,"s":-1.1},{"d":"2015-09-13","m":-2.74,"s":-1.7},{"d":"2015-09-27","m":-2.5,"s":-2.0},{"d":"2015-10-11","m":-2.3,"s":-2.15},{"d":"2015-10-25","m":-2.11,"s":-2.2},{"d":"2015-11-08","m":-1.6,"s":-2.05},{"d":"2015-11-22","m":-1.17,"s":-1.8},{"d":"2015-12-13","m":-1.0,"s":-1.45},{"d":"2015-12-27","m":-1.06,"s":-1.3},{"d":"2016-01-10","m":-1.9,"s":-1.4},{"d":"2016-01-24","m":-2.1,"s":-1.55},{"d":"2016-02-07","m":-2.31,"s":-1.8},{"d":"2016-02-21","m":-2.1,"s":-1.95},{"d":"2016-03-06","m":-1.79,"s":-1.9},{"d":"2016-03-27","m":-1.27,"s":-1.7},{"d":"2016-04-17","m":-0.96,"s":-1.4},{"d":"2016-05-01","m":-1.3,"s":-1.35},{"d":"2016-05-22","m":-2.0,"s":-1.5},{"d":"2016-06-12","m":-2.3,"s":-1.8},{"d":"2016-06-26","m":-2.63,"s":-2.05},{"d":"2016-07-10","m":-2.3,"s":-2.2},{"d":"2016-07-24","m":-2.11,"s":-2.2},{"d":"2016-08-21","m":-1.9,"s":-2.05},{"d":"2016-09-11","m":-1.69,"s":-1.9},{"d":"2016-10-09","m":-1.06,"s":-1.55},{"d":"2016-10-23","m":-0.5,"s":-1.3},{"d":"2016-11-06","m":0.29,"s":-0.85},{"d":"2016-11-27","m":1.0,"s":-0.2},{"d":"2016-12-11","m":1.54,"s":0.3},{"d":"2017-01-08","m":1.9,"s":1.05},{"d":"2017-01-29","m":2.06,"s":1.5},{"d":"2017-02-26","m":1.86,"s":1.75},{"d":"2017-03-19","m":1.1,"s":1.65},{"d":"2017-04-09","m":0.39,"s":1.3},{"d":"2017-04-30","m":0.1,"s":0.85},{"d":"2017-05-21","m":-0.13,"s":0.45},{"d":"2017-06-11","m":0.3,"s":0.2},{"d":"2017-07-02","m":0.8,"s":0.3},{"d":"2017-07-16","m":1.13,"s":0.5},{"d":"2017-08-13","m":1.02,"s":0.8},{"d":"2017-09-03","m":1.05,"s":0.95},{"d":"2017-09-24","m":1.23,"s":1.05},{"d":"2017-10-15","m":1.1,"s":1.1},{"d":"2017-11-05","m":0.81,"s":1.0},{"d":"2017-11-19","m":0.3,"s":0.85},{"d":"2017-12-03","m":-0.02,"s":0.6},{"d":"2017-12-24","m":0.3,"s":0.45},{"d":"2018-01-14","m":0.5,"s":0.4},{"d":"2018-01-28","m":0.4,"s":0.4},{"d":"2018-02-18","m":-0.33,"s":0.2},{"d":"2018-03-04","m":-0.9,"s":-0.1},{"d":"2018-03-25","m":-1.38,"s":-0.5},{"d":"2018-04-08","m":-1.35,"s":-0.75},{"d":"2018-04-29","m":-1.27,"s":-1.0},{"d":"2018-05-27","m":-1.1,"s":-1.1},{"d":"2018-06-24","m":-0.92,"s":-1.0},{"d":"2018-07-22","m":-0.75,"s":-0.9},{"d":"2018-08-12","m":-0.85,"s":-0.85},{"d":"2018-09-02","m":-1.06,"s":-0.9},{"d":"2018-09-30","m":-1.0,"s":-0.95},{"d":"2018-10-21","m":-0.96,"s":-0.95},{"d":"2018-11-04","m":-0.6,"s":-0.85},{"d":"2018-11-18","m":-0.23,"s":-0.7},{"d":"2018-11-25","m":-0.13,"s":-0.55},{"d":"2018-12-09","m":-0.4,"s":-0.45},{"d":"2018-12-30","m":-1.06,"s":-0.6},{"d":"2019-01-20","m":-1.05,"s":-0.75},{"d":"2019-02-10","m":-1.06,"s":-0.9},{"d":"2019-03-03","m":-0.95,"s":-0.95},{"d":"2019-03-24","m":-0.86,"s":-0.9},{"d":"2019-04-14","m":-0.44,"s":-0.75},{"d":"2019-04-28","m":-0.7,"s":-0.7},{"d":"2019-05-19","m":-1.1,"s":-0.8},{"d":"2019-06-02","m":-1.38,"s":-0.95},{"d":"2019-06-23","m":-1.25,"s":-1.1},{"d":"2019-07-14","m":-1.27,"s":-1.2},{"d":"2019-08-04","m":-1.6,"s":-1.3},{"d":"2019-08-25","m":-2.0,"s":-1.5},{"d":"2019-09-15","m":-1.6,"s":-1.6},{"d":"2019-10-06","m":-1.27,"s":-1.5},{"d":"2019-10-27","m":-0.9,"s":-1.25},{"d":"2019-11-10","m":-0.65,"s":-1.05},{"d":"2019-12-08","m":-0.3,"s":-0.7},{"d":"2020-01-05","m":0.08,"s":-0.3},{"d":"2020-01-19","m":0.05,"s":-0.15},{"d":"2020-02-02","m":-0.33,"s":-0.15},{"d":"2020-02-23","m":-0.7,"s":-0.3},{"d":"2020-03-08","m":-1.58,"s":-0.6},{"d":"2020-03-22","m":-2.52,"s":-1.1},{"d":"2020-04-05","m":-2.4,"s":-1.5},{"d":"2020-04-19","m":-1.9,"s":-1.7},{"d":"2020-05-10","m":-1.0,"s":-1.6},{"d":"2020-05-24","m":-0.33,"s":-1.3},{"d":"2020-06-07","m":0.2,"s":-0.9},{"d":"2020-06-21","m":0.71,"s":-0.5},{"d":"2020-07-12","m":1.1,"s":0.1},{"d":"2020-08-02","m":1.33,"s":0.6},{"d":"2020-08-23","m":1.58,"s":1.0},{"d":"2020-09-06","m":1.45,"s":1.2},{"d":"2020-09-20","m":1.23,"s":1.3},{"d":"2020-10-11","m":0.85,"s":1.2},{"d":"2020-10-25","m":0.67,"s":1.05},{"d":"2020-11-15","m":0.65,"s":0.9},{"d":"2020-11-29","m":0.71,"s":0.8},{"d":"2020-12-20","m":1.2,"s":0.85},{"d":"2021-01-03","m":1.54,"s":1.0},{"d":"2021-01-24","m":1.7,"s":1.25},{"d":"2021-02-07","m":1.85,"s":1.45},{"d":"2021-02-28","m":2.25,"s":1.75},{"d":"2021-03-14","m":2.44,"s":1.95},{"d":"2021-04-04","m":2.35,"s":2.15},{"d":"2021-04-18","m":2.27,"s":2.2},{"d":"2021-05-02","m":2.15,"s":2.2},{"d":"2021-05-16","m":2.06,"s":2.18},{"d":"2021-05-30","m":1.8,"s":2.1},{"d":"2021-06-13","m":1.44,"s":1.95},{"d":"2021-07-04","m":1.0,"s":1.7},{"d":"2021-07-18","m":0.61,"s":1.45},{"d":"2021-08-01","m":0.15,"s":1.1},{"d":"2021-08-15","m":-0.33,"s":0.7},{"d":"2021-09-05","m":-0.4,"s":0.3},{"d":"2021-09-26","m":-0.44,"s":0.0},{"d":"2021-10-10","m":0.1,"s":-0.1},{"d":"2021-10-24","m":0.61,"s":0.05},{"d":"2021-11-07","m":0.6,"s":0.2},{"d":"2021-11-14","m":0.5,"s":0.3},{"d":"2021-11-28","m":0.1,"s":0.3},{"d":"2021-12-05","m":-0.13,"s":0.25},{"d":"2021-12-19","m":0.05,"s":0.15},{"d":"2022-01-02","m":0.13,"s":0.12},{"d":"2022-01-16","m":0.05,"s":0.1},{"d":"2022-01-30","m":-0.1,"s":0.05},{"d":"2022-02-06","m":-0.13,"s":0.03},{"d":"2022-02-13","m":-0.05,"s":0.03},{"d":"2022-02-20","m":0.2,"s":0.05},{"d":"2022-02-27","m":0.5,"s":0.1},{"d":"2022-03-06","m":0.75,"s":0.16},{"d":"2022-03-13","m":1.0,"s":0.24},{"d":"2022-03-20","m":1.3424,"s":0.3284}
],
"rsi":[
{"d":"2015-02-08","r":38},{"d":"2015-02-22","r":44},{"d":"2015-03-08","r":40},{"d":"2015-03-22","r":36},{"d":"2015-04-05","r":40},{"d":"2015-04-12","r":44},{"d":"2015-04-26","r":50},{"d":"2015-05-03","r":55},{"d":"2015-05-17","r":52},{"d":"2015-05-31","r":53},{"d":"2015-06-07","r":54},{"d":"2015-06-21","r":51},{"d":"2015-06-28","r":44},{"d":"2015-07-05","r":38},{"d":"2015-07-19","r":40},{"d":"2015-08-02","r":41},{"d":"2015-08-16","r":36},{"d":"2015-08-23","r":27},{"d":"2015-08-30","r":23},{"d":"2015-09-13","r":33},{"d":"2015-09-20","r":30},{"d":"2015-10-04","r":44},{"d":"2015-10-18","r":45},{"d":"2015-10-25","r":45},{"d":"2015-11-08","r":46},{"d":"2015-11-22","r":53},{"d":"2015-12-06","r":49},{"d":"2015-12-20","r":47},{"d":"2015-12-27","r":46},{"d":"2016-01-03","r":33},{"d":"2016-01-10","r":32},{"d":"2016-01-24","r":41},{"d":"2016-01-31","r":44},{"d":"2016-02-07","r":36},{"d":"2016-02-14","r":40},{"d":"2016-02-28","r":51},{"d":"2016-03-13","r":51},{"d":"2016-03-20","r":49},{"d":"2016-03-27","r":50},{"d":"2016-04-10","r":52},{"d":"2016-04-17","r":54},{"d":"2016-04-24","r":43},{"d":"2016-05-01","r":40},{"d":"2016-05-15","r":41},{"d":"2016-05-22","r":42},{"d":"2016-05-29","r":39},{"d":"2016-06-12","r":37},{"d":"2016-06-19","r":36},{"d":"2016-06-26","r":41},{"d":"2016-07-03","r":38},{"d":"2016-07-10","r":46},{"d":"2016-07-24","r":43},{"d":"2016-08-07","r":42},{"d":"2016-08-21","r":42},{"d":"2016-09-04","r":44},{"d":"2016-09-18","r":41},{"d":"2016-10-02","r":46},{"d":"2016-10-09","r":51},{"d":"2016-10-23","r":50},{"d":"2016-11-06","r":64},{"d":"2016-11-13","r":63},{"d":"2016-11-27","r":67},{"d":"2016-12-04","r":70},{"d":"2016-12-18","r":66},{"d":"2016-12-25","r":66},{"d":"2017-01-08","r":67},{"d":"2017-01-22","r":69},{"d":"2017-02-05","r":67},{"d":"2017-02-19","r":66},{"d":"2017-02-26","r":66},{"d":"2017-03-05","r":64},{"d":"2017-03-19","r":51},{"d":"2017-03-26","r":50},{"d":"2017-04-09","r":44},{"d":"2017-04-16","r":44},{"d":"2017-04-30","r":48},{"d":"2017-05-14","r":47},{"d":"2017-05-21","r":46},{"d":"2017-06-04","r":58},{"d":"2017-06-11","r":55},{"d":"2017-06-25","r":62},{"d":"2017-07-09","r":68},{"d":"2017-07-23","r":66},{"d":"2017-08-06","r":60},{"d":"2017-08-20","r":61},{"d":"2017-09-03","r":64},{"d":"2017-09-10","r":63},{"d":"2017-09-17","r":66},{"d":"2017-10-01","r":60},{"d":"2017-10-15","r":62},{"d":"2017-10-29","r":52},{"d":"2017-11-12","r":44},{"d":"2017-11-19","r":46},{"d":"2017-12-03","r":47},{"d":"2017-12-17","r":54},{"d":"2017-12-24","r":60},{"d":"2018-01-07","r":59},{"d":"2018-01-21","r":55},{"d":"2018-02-04","r":46},{"d":"2018-02-18","r":40},{"d":"2018-02-25","r":38},{"d":"2018-03-11","r":33},{"d":"2018-03-18","r":34},{"d":"2018-04-01","r":41},{"d":"2018-04-08","r":42},{"d":"2018-04-22","r":43},{"d":"2018-05-06","r":44},{"d":"2018-05-20","r":44},{"d":"2018-06-03","r":46},{"d":"2018-06-10","r":42},{"d":"2018-06-24","r":43},{"d":"2018-07-08","r":44},{"d":"2018-07-22","r":43},{"d":"2018-08-05","r":42},{"d":"2018-08-19","r":40},{"d":"2018-09-02","r":33},{"d":"2018-09-09","r":38},{"d":"2018-09-23","r":49},{"d":"2018-09-30","r":42},{"d":"2018-10-14","r":40},{"d":"2018-10-28","r":47},{"d":"2018-11-11","r":55},{"d":"2018-11-25","r":56},{"d":"2018-12-02","r":51},{"d":"2018-12-16","r":42},{"d":"2018-12-23","r":35},{"d":"2018-12-30","r":38},{"d":"2019-01-13","r":42},{"d":"2019-01-27","r":44},{"d":"2019-02-10","r":45},{"d":"2019-02-24","r":46},{"d":"2019-03-10","r":46},{"d":"2019-03-24","r":49},{"d":"2019-03-31","r":53},{"d":"2019-04-14","r":52},{"d":"2019-04-28","r":40},{"d":"2019-05-12","r":38},{"d":"2019-05-26","r":36},{"d":"2019-06-09","r":38},{"d":"2019-06-23","r":42},{"d":"2019-06-30","r":42},{"d":"2019-07-14","r":43},{"d":"2019-07-21","r":40},{"d":"2019-07-28","r":31},{"d":"2019-08-04","r":29},{"d":"2019-08-18","r":30},{"d":"2019-08-25","r":31},{"d":"2019-09-08","r":46},{"d":"2019-09-22","r":43},{"d":"2019-10-06","r":42},{"d":"2019-10-13","r":42},{"d":"2019-10-20","r":47},{"d":"2019-11-03","r":51},{"d":"2019-11-17","r":48},{"d":"2019-12-01","r":55},{"d":"2019-12-15","r":55},{"d":"2019-12-29","r":58},{"d":"2020-01-05","r":57},{"d":"2020-01-19","r":51},{"d":"2020-01-26","r":46},{"d":"2020-02-09","r":47},{"d":"2020-02-16","r":40},{"d":"2020-02-23","r":36},{"d":"2020-03-01","r":33},{"d":"2020-03-08","r":27},{"d":"2020-03-15","r":23},{"d":"2020-03-22","r":33},{"d":"2020-03-29","r":36},{"d":"2020-04-05","r":42},{"d":"2020-04-19","r":43},{"d":"2020-05-03","r":45},{"d":"2020-05-10","r":46},{"d":"2020-05-17","r":48},{"d":"2020-05-31","r":64},{"d":"2020-06-07","r":58},{"d":"2020-06-21","r":55},{"d":"2020-07-05","r":56},{"d":"2020-07-19","r":60},{"d":"2020-07-26","r":59},{"d":"2020-08-09","r":61},{"d":"2020-08-23","r":64},{"d":"2020-09-06","r":62},{"d":"2020-09-20","r":52},{"d":"2020-09-27","r":51},{"d":"2020-10-11","r":51},{"d":"2020-10-25","r":53},{"d":"2020-11-01","r":54},{"d":"2020-11-08","r":56},{"d":"2020-11-22","r":62},{"d":"2020-12-06","r":61},{"d":"2020-12-13","r":65},{"d":"2020-12-27","r":68},{"d":"2021-01-10","r":66},{"d":"2021-01-17","r":66},{"d":"2021-01-31","r":67},{"d":"2021-02-14","r":71},{"d":"2021-02-21","r":73},{"d":"2021-03-07","r":72},{"d":"2021-03-14","r":71},{"d":"2021-03-28","r":70},{"d":"2021-04-11","r":68},{"d":"2021-04-25","r":68},{"d":"2021-05-09","r":66},{"d":"2021-05-23","r":66},{"d":"2021-06-06","r":64},{"d":"2021-06-13","r":55},{"d":"2021-06-27","r":52},{"d":"2021-07-11","r":46},{"d":"2021-07-18","r":44},{"d":"2021-08-01","r":40},{"d":"2021-08-15","r":35},{"d":"2021-08-22","r":40},{"d":"2021-08-29","r":46},{"d":"2021-09-12","r":51},{"d":"2021-09-19","r":47},{"d":"2021-10-03","r":49},{"d":"2021-10-10","r":56},{"d":"2021-10-24","r":64},{"d":"2021-10-31","r":60},{"d":"2021-11-14","r":54},{"d":"2021-11-21","r":51},{"d":"2021-11-28","r":45},{"d":"2021-12-05","r":40},{"d":"2021-12-12","r":46},{"d":"2021-12-26","r":55},{"d":"2022-01-02","r":52},{"d":"2022-01-09","r":49},{"d":"2022-01-16","r":46},{"d":"2022-01-23","r":48},{"d":"2022-01-30","r":51},{"d":"2022-02-13","r":54},{"d":"2022-02-20","r":58},{"d":"2022-02-27","r":57},{"d":"2022-03-06","r":62},{"d":"2022-03-13","r":69},{"d":"2022-03-20","r":72.68}
],
"levels":[{"p":90.29,"t":"90.290"},{"p":85.78,"t":"85.780"}],
"lab":[{"d":"2017-09-17","p":90.29,"t":"90.290"},{"d":"2016-06-19","p":72.39,"t":"72.390"},{"d":"2020-03-15","p":59.85,"t":"59.850"},{"d":"2021-05-09","p":85.78,"t":"85.780"},{"d":"2021-11-28","p":78.77,"t":"78.770"}],
"chan":[{"id":"up","d":"2019-09-08","p":67.6},{"id":"up","d":"2022-05-13","p":97.35},{"id":"lo","d":"2020-03-15","p":59.85},{"id":"lo","d":"2022-05-13","p":84.3},{"id":"fe","d":"2020-03-15","p":94.95},{"id":"fe","d":"2022-05-13","p":94.95}],
"fib":[{"d":"2020-03-15","p":59.85},{"d":"2021-05-09","p":85.78},{"d":"2021-11-28","p":78.77}],
"tl":[{"id":"t","d":"2021-05-09","p":85.78},{"id":"t","d":"2021-12-12","p":86.5},{"id":"b","d":"2021-07-04","p":77.9},{"id":"b","d":"2021-12-26","p":79.05}],
"mtl":[{"d":"2020-03-29","m":-2.53},{"d":"2022-05-13","m":0.08}],
"one":[{"k":1}],
"rsilv":[{"lv":30},{"lv":70}]
},
"vconcat":[
{"width":567,"height":241,
"layer":[
{"data":{"name":"one"},"mark":{"type":"text","text":"ActionForex.com","fontSize":18.5,"color":"#c6c6c6","align":"center","baseline":"middle"},
 "encoding":{"x":{"datum":{"year":2017,"month":8,"date":26,"utc":true},"type":"temporal","scale":{"type":"utc","nice":false,"padding":0,"domain":[{"year":2015,"month":2,"date":7,"hours":12,"utc":true},{"year":2022,"month":5,"date":13,"utc":true}]},"axis":null},
 "y":{"datum":64.9,"type":"quantitative","scale":{"domain":[58.78,99.49],"nice":false,"zero":false,"padding":0},"axis":{"orient":"right","title":null,"values":[59.285,63.41,67.535,71.785,75.91,80.16,84.285,88.41,92.66,96.785],"format":".3f","tickSize":3,"labelPadding":1,"domain":false,"grid":false,"labelFont":"Liberation Sans","labelFontSize":7.2,"labelColor":"#000000","tickColor":"#3c3c3c","labelOverlap":false}}}},
{"data":{"name":"levels"},"mark":{"type":"rule","color":"#6f8282","strokeDash":[3,2],"strokeWidth":1},
 "encoding":{"y":{"field":"p","type":"quantitative","axis":{"orient":"right","title":null,"values":[59.285,63.41,67.535,71.785,75.91,80.16,84.285,88.41,92.66,96.785],"format":".3f","tickSize":3,"labelPadding":1,"domain":false,"grid":false,"labelFont":"Liberation Sans","labelFontSize":7.2,"labelColor":"#000000","tickColor":"#3c3c3c","labelOverlap":false}}}},
{"data":{"name":"chan"},"mark":{"type":"line","color":"#8ea4a4","strokeWidth":1},
 "encoding":{"x":{"field":"d","type":"temporal","axis":null},"y":{"field":"p","type":"quantitative","axis":{"orient":"right","title":null,"values":[59.285,63.41,67.535,71.785,75.91,80.16,84.285,88.41,92.66,96.785],"format":".3f","tickSize":3,"labelPadding":1,"domain":false,"grid":false,"labelFont":"Liberation Sans","labelFontSize":7.2,"labelColor":"#000000","tickColor":"#3c3c3c","labelOverlap":false}},"detail":{"field":"id"}}},
{"data":{"name":"fib"},"mark":{"type":"line","color":"#8c8c8c","strokeWidth":1,"strokeDash":[3,3]},
 "encoding":{"x":{"field":"d","type":"temporal","axis":null},"y":{"field":"p","type":"quantitative","axis":{"orient":"right","title":null,"values":[59.285,63.41,67.535,71.785,75.91,80.16,84.285,88.41,92.66,96.785],"format":".3f","tickSize":3,"labelPadding":1,"domain":false,"grid":false,"labelFont":"Liberation Sans","labelFontSize":7.2,"labelColor":"#000000","tickColor":"#3c3c3c","labelOverlap":false}}}},
{"data":{"name":"candles"},"mark":{"type":"rule","color":"#5a8098","strokeWidth":1},
 "encoding":{"x":{"field":"d","type":"temporal","axis":null},"y":{"field":"l","type":"quantitative","axis":{"orient":"right","title":null,"values":[59.285,63.41,67.535,71.785,75.91,80.16,84.285,88.41,92.66,96.785],"format":".3f","tickSize":3,"labelPadding":1,"domain":false,"grid":false,"labelFont":"Liberation Sans","labelFontSize":7.2,"labelColor":"#000000","tickColor":"#3c3c3c","labelOverlap":false}},"y2":{"field":"h"}}},
{"data":{"name":"candles"},"mark":{"type":"bar","color":"#5a8098","size":2},
 "encoding":{"x":{"field":"d","type":"temporal","axis":null},"y":{"field":"o","type":"quantitative","axis":{"orient":"right","title":null,"values":[59.285,63.41,67.535,71.785,75.91,80.16,84.285,88.41,92.66,96.785],"format":".3f","tickSize":3,"labelPadding":1,"domain":false,"grid":false,"labelFont":"Liberation Sans","labelFontSize":7.2,"labelColor":"#000000","tickColor":"#3c3c3c","labelOverlap":false}},"y2":{"field":"c"}}},
{"data":{"name":"ma"},"mark":{"type":"line","color":"#ff3c3c","strokeWidth":1,"interpolate":"monotone"},
 "encoding":{"x":{"field":"d","type":"temporal","axis":null},"y":{"field":"v","type":"quantitative","axis":{"orient":"right","title":null,"values":[59.285,63.41,67.535,71.785,75.91,80.16,84.285,88.41,92.66,96.785],"format":".3f","tickSize":3,"labelPadding":1,"domain":false,"grid":false,"labelFont":"Liberation Sans","labelFontSize":7.2,"labelColor":"#000000","tickColor":"#3c3c3c","labelOverlap":false}}}},
{"data":{"name":"tl"},"mark":{"type":"line","color":"#111111","strokeWidth":1},
 "encoding":{"x":{"field":"d","type":"temporal","axis":null},"y":{"field":"p","type":"quantitative","axis":{"orient":"right","title":null,"values":[59.285,63.41,67.535,71.785,75.91,80.16,84.285,88.41,92.66,96.785],"format":".3f","tickSize":3,"labelPadding":1,"domain":false,"grid":false,"labelFont":"Liberation Sans","labelFontSize":7.2,"labelColor":"#000000","tickColor":"#3c3c3c","labelOverlap":false}},"detail":{"field":"id"}}},
{"data":{"name":"lab"},"mark":{"type":"rule","color":"#3a3ac0","strokeWidth":1,"xOffset":-6,"x2Offset":0},
 "encoding":{"x":{"field":"d","type":"temporal","axis":null},"x2":{"field":"d"},"y":{"field":"p","type":"quantitative","axis":{"orient":"right","title":null,"values":[59.285,63.41,67.535,71.785,75.91,80.16,84.285,88.41,92.66,96.785],"format":".3f","tickSize":3,"labelPadding":1,"domain":false,"grid":false,"labelFont":"Liberation Sans","labelFontSize":7.2,"labelColor":"#000000","tickColor":"#3c3c3c","labelOverlap":false}}}},
{"data":{"name":"lab"},"mark":{"type":"rect","fill":"#ffffff","stroke":"#3a3ac0","strokeWidth":1,"xOffset":-33,"x2Offset":-6,"yOffset":-4.5,"y2Offset":4.5},
 "encoding":{"x":{"field":"d","type":"temporal","axis":null},"x2":{"field":"d"},"y":{"field":"p","type":"quantitative","axis":{"orient":"right","title":null,"values":[59.285,63.41,67.535,71.785,75.91,80.16,84.285,88.41,92.66,96.785],"format":".3f","tickSize":3,"labelPadding":1,"domain":false,"grid":false,"labelFont":"Liberation Sans","labelFontSize":7.2,"labelColor":"#000000","tickColor":"#3c3c3c","labelOverlap":false}},"y2":{"field":"p"}}},
{"data":{"name":"lab"},"mark":{"type":"text","fontSize":7.8,"color":"#1c1c8c","align":"center","baseline":"middle","xOffset":-19.5},
 "encoding":{"x":{"field":"d","type":"temporal","axis":null},"y":{"field":"p","type":"quantitative","axis":{"orient":"right","title":null,"values":[59.285,63.41,67.535,71.785,75.91,80.16,84.285,88.41,92.66,96.785],"format":".3f","tickSize":3,"labelPadding":1,"domain":false,"grid":false,"labelFont":"Liberation Sans","labelFontSize":7.2,"labelColor":"#000000","tickColor":"#3c3c3c","labelOverlap":false}},"text":{"field":"t"}}},
{"data":{"name":"levels"},"mark":{"type":"rect","fill":"#2d4b4b","xOffset":2,"x2Offset":29,"yOffset":-4.5,"y2Offset":4.5},
 "encoding":{"x":{"datum":{"year":2022,"month":5,"date":13,"utc":true},"type":"temporal","axis":null},"x2":{"datum":{"year":2022,"month":5,"date":13,"utc":true}},"y":{"field":"p","type":"quantitative","axis":{"orient":"right","title":null,"values":[59.285,63.41,67.535,71.785,75.91,80.16,84.285,88.41,92.66,96.785],"format":".3f","tickSize":3,"labelPadding":1,"domain":false,"grid":false,"labelFont":"Liberation Sans","labelFontSize":7.2,"labelColor":"#000000","tickColor":"#3c3c3c","labelOverlap":false}},"y2":{"field":"p"}}},
{"data":{"name":"levels"},"mark":{"type":"text","fontSize":7.2,"color":"#ffffff","align":"left","baseline":"middle","xOffset":4},
 "encoding":{"x":{"datum":{"year":2022,"month":5,"date":13,"utc":true},"type":"temporal","axis":null},"y":{"field":"p","type":"quantitative","axis":{"orient":"right","title":null,"values":[59.285,63.41,67.535,71.785,75.91,80.16,84.285,88.41,92.66,96.785],"format":".3f","tickSize":3,"labelPadding":1,"domain":false,"grid":false,"labelFont":"Liberation Sans","labelFontSize":7.2,"labelColor":"#000000","tickColor":"#3c3c3c","labelOverlap":false}},"text":{"field":"t"}}},
{"data":{"name":"one"},"mark":{"type":"text","text":"FE 61.8","fontSize":7.3,"color":"#7f9292","align":"right","baseline":"bottom","dy":-1},
 "encoding":{"x":{"datum":{"year":2022,"month":5,"date":13,"utc":true},"type":"temporal","axis":null},"y":{"datum":94.95,"type":"quantitative","axis":{"orient":"right","title":null,"values":[59.285,63.41,67.535,71.785,75.91,80.16,84.285,88.41,92.66,96.785],"format":".3f","tickSize":3,"labelPadding":1,"domain":false,"grid":false,"labelFont":"Liberation Sans","labelFontSize":7.2,"labelColor":"#000000","tickColor":"#3c3c3c","labelOverlap":false}}}},
{"data":{"name":"one"},"mark":{"type":"text","text":"▼ AUDJPY,Weekly  88.238 90.638 87.819 90.388","fontSize":7.3,"color":"#000000","align":"left","baseline":"middle","dx":1},
 "encoding":{"x":{"datum":{"year":2015,"month":2,"date":8,"utc":true},"type":"temporal","axis":null},"y":{"datum":98.64,"type":"quantitative","axis":{"orient":"right","title":null,"values":[59.285,63.41,67.535,71.785,75.91,80.16,84.285,88.41,92.66,96.785],"format":".3f","tickSize":3,"labelPadding":1,"domain":false,"grid":false,"labelFont":"Liberation Sans","labelFontSize":7.2,"labelColor":"#000000","tickColor":"#3c3c3c","labelOverlap":false}}}}
]},
{"width":567,"height":93,
"layer":[
{"data":{"name":"one"},"mark":{"type":"rule","color":"#9a9a9a","strokeDash":[3,2],"strokeWidth":1},
 "encoding":{"y":{"datum":0,"type":"quantitative","scale":{"domain":[-3.067,2.638],"nice":false,"zero":false,"padding":0},"axis":{"orient":"right","title":null,"values":[2.4416,0,-2.7452],"labelExpr":"datum.value == 0 ? '0.00' : '' + datum.value","tickSize":3,"labelPadding":1,"domain":false,"grid":false,"labelFont":"Liberation Sans","labelFontSize":7.2,"labelColor":"#000000","tickColor":"#3c3c3c","labelOverlap":false}}}},
{"data":{"name":"macd"},"mark":{"type":"line","color":"#c8c8c8","strokeWidth":1,"interpolate":"monotone"},
 "encoding":{"x":{"field":"d","type":"temporal","scale":{"type":"utc","nice":false,"padding":0,"domain":[{"year":2015,"month":2,"date":7,"hours":12,"utc":true},{"year":2022,"month":5,"date":13,"utc":true}]},"axis":null},"y":{"field":"s","type":"quantitative","axis":{"orient":"right","title":null,"values":[2.4416,0,-2.7452],"labelExpr":"datum.value == 0 ? '0.00' : '' + datum.value","tickSize":3,"labelPadding":1,"domain":false,"grid":false,"labelFont":"Liberation Sans","labelFontSize":7.2,"labelColor":"#000000","tickColor":"#3c3c3c","labelOverlap":false}}}},
{"data":{"name":"macd"},"mark":{"type":"line","color":"#1a1a8c","strokeWidth":2.2,"interpolate":"monotone"},
 "encoding":{"x":{"field":"d","type":"temporal","axis":null},"y":{"field":"m","type":"quantitative","axis":{"orient":"right","title":null,"values":[2.4416,0,-2.7452],"labelExpr":"datum.value == 0 ? '0.00' : '' + datum.value","tickSize":3,"labelPadding":1,"domain":false,"grid":false,"labelFont":"Liberation Sans","labelFontSize":7.2,"labelColor":"#000000","tickColor":"#3c3c3c","labelOverlap":false}}}},
{"data":{"name":"mtl"},"mark":{"type":"line","color":"#222222","strokeWidth":1},
 "encoding":{"x":{"field":"d","type":"temporal","axis":null},"y":{"field":"m","type":"quantitative","axis":{"orient":"right","title":null,"values":[2.4416,0,-2.7452],"labelExpr":"datum.value == 0 ? '0.00' : '' + datum.value","tickSize":3,"labelPadding":1,"domain":false,"grid":false,"labelFont":"Liberation Sans","labelFontSize":7.2,"labelColor":"#000000","tickColor":"#3c3c3c","labelOverlap":false}}}},
{"data":{"name":"one"},"mark":{"type":"text","text":"MACD(12,26,9) 1.3424 0.3284","fontSize":7.3,"color":"#000000","align":"left","baseline":"middle","dx":3},
 "encoding":{"x":{"datum":{"year":2015,"month":2,"date":8,"utc":true},"type":"temporal","axis":null},"y":{"datum":2.33,"type":"quantitative","axis":{"orient":"right","title":null,"values":[2.4416,0,-2.7452],"labelExpr":"datum.value == 0 ? '0.00' : '' + datum.value","tickSize":3,"labelPadding":1,"domain":false,"grid":false,"labelFont":"Liberation Sans","labelFontSize":7.2,"labelColor":"#000000","tickColor":"#3c3c3c","labelOverlap":false}}}}
]},
{"width":567,"height":92,
"layer":[
{"data":{"name":"rsilv"},"mark":{"type":"rule","color":"#a8a8a8","strokeDash":[3,2],"strokeWidth":1},
 "encoding":{"y":{"field":"lv","type":"quantitative","scale":{"domain":[0,101],"nice":false,"zero":false,"padding":0},"axis":{"orient":"right","title":null,"values":[0,30,70,100],"format":"d","tickSize":3,"labelPadding":1,"labelFlush":3,"domain":false,"grid":false,"labelFont":"Liberation Sans","labelFontSize":7.2,"labelColor":"#000000","tickColor":"#3c3c3c","labelOverlap":false}}}},
{"data":{"name":"rsi"},"mark":{"type":"line","color":"#3d9cf0","strokeWidth":1},
 "encoding":{"x":{"field":"d","type":"temporal","scale":{"type":"utc","nice":false,"padding":0,"domain":[{"year":2015,"month":2,"date":7,"hours":12,"utc":true},{"year":2022,"month":5,"date":13,"utc":true}]},"axis":{"orient":"bottom","title":null,"format":"%-d %b %Y","labelAlign":"left","labelBaseline":"top","labelPadding":2,"tickSize":4,"labelFlush":false,"labelBound":false,"domain":false,"grid":false,"labelFont":"Liberation Sans","labelFontSize":7.3,"labelColor":"#000000","tickColor":"#3c3c3c","labelOverlap":false,"values":[{"year":2015,"month":2,"date":8,"utc":true},{"year":2015,"month":9,"date":20,"utc":true},{"year":2016,"month":5,"date":1,"utc":true},{"year":2016,"month":12,"date":11,"utc":true},{"year":2017,"month":7,"date":23,"utc":true},{"year":2018,"month":3,"date":4,"utc":true},{"year":2018,"month":10,"date":14,"utc":true},{"year":2019,"month":5,"date":26,"utc":true},{"year":2020,"month":1,"date":5,"utc":true},{"year":2020,"month":8,"date":16,"utc":true},{"year":2021,"month":3,"date":28,"utc":true},{"year":2021,"month":11,"date":7,"utc":true}]}},
 "y":{"field":"r","type":"quantitative","axis":{"orient":"right","title":null,"values":[0,30,70,100],"format":"d","tickSize":3,"labelPadding":1,"labelFlush":3,"domain":false,"grid":false,"labelFont":"Liberation Sans","labelFontSize":7.2,"labelColor":"#000000","tickColor":"#3c3c3c","labelOverlap":false}}}},
{"data":{"name":"one"},"mark":{"type":"text","text":"RSI(14) 72.6801","fontSize":7.3,"color":"#000000","align":"left","baseline":"middle","dx":3},
 "encoding":{"x":{"datum":{"year":2015,"month":2,"date":8,"utc":true},"type":"temporal","axis":{"orient":"bottom","title":null,"format":"%-d %b %Y","labelAlign":"left","labelBaseline":"top","labelPadding":2,"tickSize":4,"labelFlush":false,"labelBound":false,"domain":false,"grid":false,"labelFont":"Liberation Sans","labelFontSize":7.3,"labelColor":"#000000","tickColor":"#3c3c3c","labelOverlap":false,"values":[{"year":2015,"month":2,"date":8,"utc":true},{"year":2015,"month":9,"date":20,"utc":true},{"year":2016,"month":5,"date":1,"utc":true},{"year":2016,"month":12,"date":11,"utc":true},{"year":2017,"month":7,"date":23,"utc":true},{"year":2018,"month":3,"date":4,"utc":true},{"year":2018,"month":10,"date":14,"utc":true},{"year":2019,"month":5,"date":26,"utc":true},{"year":2020,"month":1,"date":5,"utc":true},{"year":2020,"month":8,"date":16,"utc":true},{"year":2021,"month":3,"date":28,"utc":true},{"year":2021,"month":11,"date":7,"utc":true}]}},"y":{"datum":93.3,"type":"quantitative","axis":{"orient":"right","title":null,"values":[0,30,70,100],"format":"d","tickSize":3,"labelPadding":1,"labelFlush":3,"domain":false,"grid":false,"labelFont":"Liberation Sans","labelFontSize":7.2,"labelColor":"#000000","tickColor":"#3c3c3c","labelOverlap":false}}}}
]}
]
}
